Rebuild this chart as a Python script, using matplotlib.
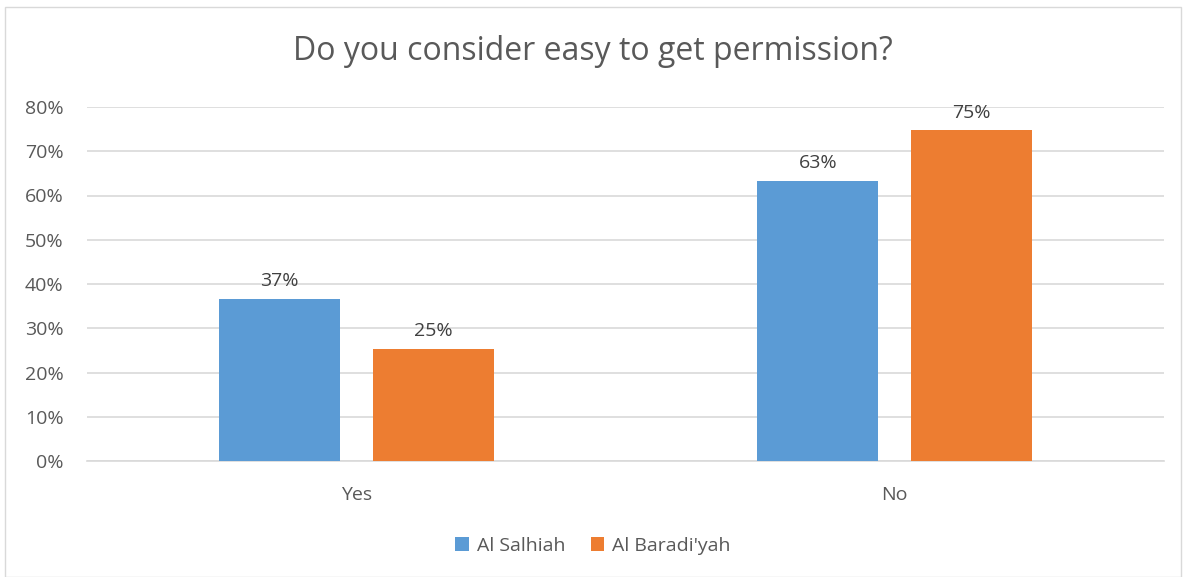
import matplotlib
matplotlib.use('Agg')
import matplotlib.pyplot as plt
import numpy as np
from matplotlib.patches import Rectangle

categories = ['Yes', 'No']
series_names = ['Al Salhiah', "Al Baradi'yah"]
salhiah = [36.7, 63.3]
baradiyah = [25.3, 74.7]
yticks = [0, 10, 20, 30, 40, 50, 60, 70, 80]

plt.rcParams['font.family'] = ['Open Sans', 'DejaVu Sans']

fig = plt.figure(figsize=(11.86, 5.77), dpi=100)
ax = fig.add_axes([87 / 1186, 116 / 577, 1077 / 1186, 354 / 577])

# chart border
fig.patches.append(Rectangle((5 / 1186, 0), 1176 / 1186, 570 / 577, transform=fig.transFigure,
                             fill=False, edgecolor='#D9D9D9', linewidth=1))

x = np.arange(len(categories))
w = 0.225
off = 0.143
colors = ['#5B9BD5', '#ED7D31']
for vals, dx, c, name in [(salhiah, -off, colors[0], series_names[0]),
                          (baradiyah, off, colors[1], series_names[1])]:
    bars = ax.bar(x + dx, vals, w, color=c, label=name, zorder=3)
    for b, v in zip(bars, vals):
        ax.text(b.get_x() + b.get_width() / 2, v + 2.0, f'{round(v):.0f}%',
                ha='center', va='bottom', fontsize=14, color='#404040')

ax.set_xlim(-0.5, 1.5)
ax.set_ylim(0, 80)
ax.set_yticks(yticks)
ax.set_yticklabels([f'{t}%' for t in yticks])
ax.set_xticks(x)
ax.set_xticklabels(categories)
ax.tick_params(axis='both', length=0, labelsize=14, labelcolor='#595959')
ax.tick_params(axis='y', pad=17)
ax.tick_params(axis='x', pad=18)
ax.grid(axis='y', color='#D9D9D9', linewidth=1.2, zorder=0)
for s in ['top', 'right', 'left']:
    ax.spines[s].set_visible(False)
ax.spines['bottom'].set_color('#D9D9D9')
ax.spines['bottom'].set_linewidth(1.2)

fig.text(0.5, 1 - 52 / 577, 'Do you consider easy to get permission?', ha='center', va='center',
         fontsize=23, color='#595959')

fig.legend(loc='center', bbox_to_anchor=(0.5, 1 - 546 / 577), ncol=2, frameon=False,
           fontsize=14, labelcolor='#595959', handlelength=0.7, handleheight=0.7,
           handletextpad=0.4, columnspacing=1.3)

fig.savefig('out.png', dpi=100)
